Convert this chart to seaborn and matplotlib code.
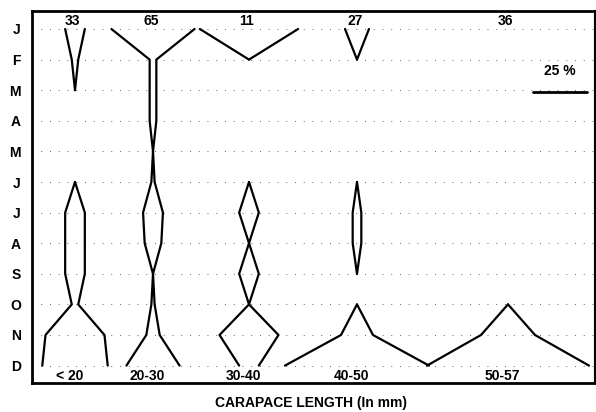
import numpy as np
import pandas as pd
import matplotlib
matplotlib.use("Agg")
import matplotlib.pyplot as plt
import seaborn as sns

# ---------------- data ----------------
months = ["J", "F", "M", "A", "M", "J", "J", "A", "S", "O", "N", "D"]
size_classes = ["< 20", "20-30", "30-40", "40-50", "50-57"]
sample_sizes = [33, 65, 11, 27, 36]

# percentage of each size class per month (kite full width)
pct_lt20 = [9.1, 3.0, 0, 0, 0, 0, 9.1, 9.1, 9.1, 3.0, 27.3, 30.3]
pct_20_30 = [38.5, 3.1, 3.1, 3.1, 0, 1.5, 9.2, 7.7, 0, 1.5, 6.2, 24.6]
pct_30_40 = [45.5, 0, 0, 0, 0, 0, 9.1, 0, 9.1, 0, 27.3, 9.1]
pct_40_50 = [11.1, 0, 0, 0, 0, 0, 4.0, 4.0, 0, 0, 14.8, 66.7]
pct_50_57 = [0, 0, 0, 0, 0, 0, 0, 0, 0, 0, 25.0, 75.0]
scale_pct = 25

# ---------------- layout ----------------
W, H = 596, 412
ax_l, ax_r, ax_t, ax_b = 32, 595, 11, 383
px_per_pct = 2.16
row0_px, row_step = 29, 30.6
centers_px = [75, 153, 249, 357, 508]


def ux(px):
    return (px - ax_l) / px_per_pct


def uy(py):
    return (py - row0_px) / row_step


sns.set_theme(style="white")
plt.rcParams["font.family"] = ["Liberation Sans Narrow", "Liberation Sans", "DejaVu Sans"]

fig = plt.figure(figsize=(W / 100, H / 100), dpi=100)
ax = fig.add_axes([ax_l / W, (H - ax_b) / H, (ax_r - ax_l) / W, (ax_b - ax_t) / H])

pcts = [pct_lt20, pct_20_30, pct_30_40, pct_40_50, pct_50_57]
records = []
unit = 0
for cls, vals, cpx in zip(size_classes, pcts, centers_px):
    c = ux(cpx)
    for side in (-1, 1):
        run = []
        for i in range(len(months) - 1):
            drawn = vals[i] > 0 or vals[i + 1] > 0
            if drawn:
                if not run:
                    run.append(i)
                run.append(i + 1)
            else:
                if run:
                    for j in run:
                        records.append(dict(x=c + side * vals[j] / 2, y=j, unit=unit))
                    unit += 1
                    run = []
        if run:
            for j in run:
                records.append(dict(x=c + side * vals[j] / 2, y=j, unit=unit))
            unit += 1

df = pd.DataFrame(records)
sns.lineplot(data=df, x="x", y="y", units="unit", estimator=None, sort=False,
             orient="y", color="black", lw=1.6, ax=ax, legend=False)

ax.set_xlim(0, ux(ax_r))
ax.set_ylim(uy(ax_b), uy(ax_t))
ax.set_xticks([])
ax.set_yticks(range(len(months)))
ax.set_yticklabels(months, fontweight="bold", fontsize=10)
ax.tick_params(axis="y", direction="in", length=5, width=1.5, pad=8, colors="black")
ax.set_xlabel("")
ax.set_ylabel("")
ax.yaxis.grid(True, linestyle=(0, (1, 8)), color="0.4", lw=0.7)
ax.xaxis.grid(False)

for name, s in ax.spines.items():
    s.set_color("black")
    s.set_visible(True)
    s.set_linewidth(2.0 if name != "right" else 1.5)

# sample sizes on top
for n, cpx in zip(sample_sizes, centers_px):
    ax.text(ux(cpx) - 1, uy(21), str(n), ha="center", va="center",
            fontweight="bold", fontsize=10, color="black")

# size class labels at bottom
for lab, cpx in zip(size_classes, centers_px):
    ax.text(ux(cpx) - 2.5, uy(376), lab, ha="center", va="center",
            fontweight="bold", fontsize=10, color="black")

# scale bar
ax.plot([ux(533), ux(533) + scale_pct], [uy(91.5)] * 2, color="black", lw=2)
ax.text(ux(533) + scale_pct / 2, uy(71), f"{scale_pct} %", ha="center", va="center",
        fontweight="bold", fontsize=10, color="black")

fig.text(311 / W, 1 - 403 / H, "CARAPACE LENGTH (In mm)", ha="center", va="center",
         fontweight="bold", fontsize=10, color="black")

fig.savefig("out.png", dpi=100)
